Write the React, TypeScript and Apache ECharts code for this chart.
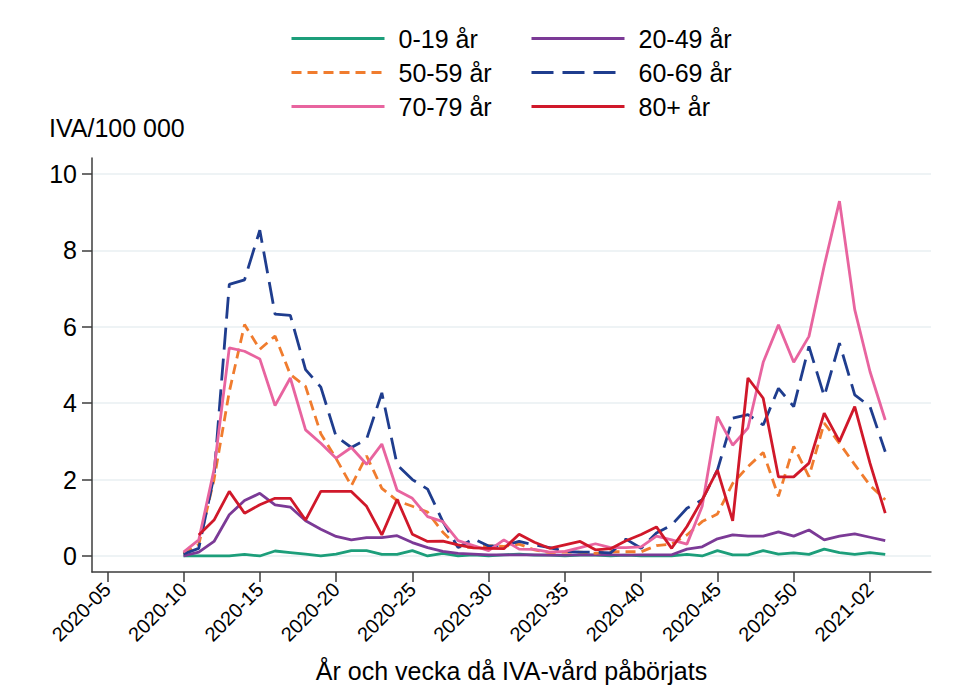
import React, { useEffect, useRef } from "react";
import * as echarts from "echarts";

// Weeks (ISO year-week) for which data exist
const weeks: string[] = [
  "2020-10", "2020-11", "2020-12", "2020-13", "2020-14", "2020-15", "2020-16", "2020-17", "2020-18", "2020-19",
  "2020-20", "2020-21", "2020-22", "2020-23", "2020-24", "2020-25", "2020-26", "2020-27", "2020-28", "2020-29",
  "2020-30", "2020-31", "2020-32", "2020-33", "2020-34", "2020-35", "2020-36", "2020-37", "2020-38", "2020-39",
  "2020-40", "2020-41", "2020-42", "2020-43", "2020-44", "2020-45", "2020-46", "2020-47", "2020-48", "2020-49",
  "2020-50", "2020-51", "2020-52", "2020-53", "2021-01", "2021-02", "2021-03",
];

const xTickLabels: string[] = [
  "2020-05", "2020-10", "2020-15", "2020-20", "2020-25", "2020-30",
  "2020-35", "2020-40", "2020-45", "2020-50", "2021-02",
];
const yTickValues: number[] = [0, 2, 4, 6, 8, 10];

const age0_19: number[] = [
  0, 0, 0, 0, 0.04, 0, 0.13, 0.09, 0.05, 0, 0.05, 0.14, 0.14, 0.04, 0.04, 0.14, 0, 0.07, 0, 0.03,
  0, 0.03, 0.05, 0.02, 0.02, 0, 0.02, 0.02, 0, 0.02, 0, 0, 0, 0.04, 0, 0.14, 0.03, 0.03, 0.14, 0.05,
  0.08, 0.04, 0.18, 0.09, 0.04, 0.09, 0.04,
];
const age20_49: number[] = [
  0, 0.1, 0.38, 1.08, 1.45, 1.64, 1.34, 1.28, 0.92, 0.7, 0.51, 0.42, 0.48, 0.48, 0.53, 0.35, 0.22, 0.12, 0.07, 0.05,
  0.03, 0.03, 0.03, 0.03, 0.02, 0.02, 0.03, 0.03, 0.03, 0.02, 0.03, 0.03, 0.03, 0.18, 0.24, 0.45, 0.55, 0.52, 0.52, 0.63,
  0.52, 0.68, 0.42, 0.52, 0.58, 0.49, 0.4,
];
const age50_59: number[] = [
  0.05, 0.3, 2.0, 4.3, 6.06, 5.41, 5.76, 4.75, 4.44, 3.2, 2.55, 1.84, 2.62, 1.77, 1.45, 1.3, 1.15, 0.62, 0.24, 0.22,
  0.27, 0.25, 0.31, 0.16, 0.09, 0.1, 0.1, 0.07, 0.11, 0.11, 0.11, 0.27, 0.31, 0.55, 0.9, 1.1, 1.9, 2.34, 2.71, 1.56,
  2.87, 2.08, 3.48, 2.95, 2.39, 1.85, 1.47,
];
const age60_69: number[] = [
  0.05, 0.2, 2.1, 7.11, 7.23, 8.53, 6.33, 6.3, 4.88, 4.42, 3.13, 2.84, 3.06, 4.27, 2.39, 2.0, 1.75, 0.9, 0.22, 0.45,
  0.26, 0.27, 0.38, 0.29, 0.22, 0.12, 0.1, 0.1, 0.08, 0.44, 0.2, 0.6, 0.81, 1.25, 1.47, 2.25, 3.61, 3.7, 3.43, 4.39,
  3.91, 5.49, 4.18, 5.57, 4.22, 3.91, 2.73,
];
const age70_79: number[] = [
  0.1, 0.42, 2.26, 5.45, 5.36, 5.16, 3.94, 4.66, 3.3, 2.95, 2.56, 2.84, 2.4, 2.93, 1.72, 1.51, 1.03, 0.9, 0.4, 0.27,
  0.14, 0.42, 0.18, 0.17, 0.1, 0.12, 0.22, 0.32, 0.22, 0.22, 0.24, 0.52, 0.42, 0.31, 1.3, 3.65, 2.9, 3.35, 5.07, 6.05,
  5.07, 5.75, 7.6, 9.29, 6.45, 4.83, 3.56,
];
const age80plus: (number | null)[] = [
  null, 0.55, 0.94, 1.69, 1.12, 1.34, 1.51, 1.51, 0.94, 1.69, 1.69, 1.69, 1.3, 0.55, 1.48, 0.57, 0.38, 0.39, 0.29, 0.21,
  0.2, 0.19, 0.57, 0.36, 0.2, 0.29, 0.38, 0.16, 0.19, 0.4, 0.56, 0.76, 0.2, 0.77, 1.47, 2.25, 0.92, 4.66, 4.13, 2.07,
  2.07, 2.43, 3.74, 3.0, 3.91, 2.43, 1.12,
];

const seriesNames = ["0-19 år", "20-49 år", "50-59 år", "60-69 år", "70-79 år", "80+ år"];
const seriesColors = ["#1c9e7a", "#7b3a96", "#f07c2e", "#1f3d8e", "#e8649f", "#d0182a"];

// position of a "YYYY-WW" week on a continuous week axis (0 = 2020-05)
function weekPos(label: string): number {
  const [y, w] = label.split("-").map(Number);
  return y === 2020 ? w - 5 : 48 + w;
}

const FONT = "'Liberation Sans', Arial, sans-serif";

export default function App() {
  const ref = useRef<HTMLDivElement>(null);
  useEffect(() => {
    if (!ref.current) return;
    const chart = echarts.init(ref.current, null, { renderer: "svg" });
    const allData = [age0_19, age20_49, age50_59, age60_69, age70_79, age80plus];
    const dashes: any[] = ["solid", "solid", [10, 6], [22, 9], "solid", "solid"];
    const tickPos = xTickLabels.map(weekPos);
    const labelByPos: Record<number, string> = {};
    xTickLabels.forEach((l) => (labelByPos[weekPos(l)] = l));

    const legendCols = [290, 530];
    const legendRows = [40, 74, 108];

    chart.setOption({
      animation: false,
      backgroundColor: "#ffffff",
      textStyle: { fontFamily: FONT },
      title: {
        text: "IVA/100 000",
        left: 49,
        top: 115,
        padding: 0,
        textStyle: { fontSize: 25, fontWeight: "normal", color: "#000", fontFamily: FONT },
      },
      legend: seriesNames.map((n, i) => ({
        data: [n],
        left: legendCols[i % 2],
        top: legendRows[Math.floor(i / 2)] - 14,
        padding: 0,
        itemWidth: 93,
        itemHeight: 28,
        itemGap: 0,
        selectedMode: false,
        itemStyle: { opacity: 0, borderWidth: 0 },
        lineStyle: { width: 3 },
        textStyle: { fontSize: 25, color: "#000", fontFamily: FONT, padding: [0, 0, 0, 9] },
      })),
      grid: {
        left: 92,
        right: 44,
        top: 158,
        bottom: 114,
        containLabel: false,
        outerBoundsMode: "none",
      },
      xAxis: {
        type: "value",
        min: -1,
        max: 54,
        name: "År och vecka då IVA-vård påbörjats",
        nameLocation: "middle",
        nameGap: 86,
        nameTextStyle: { fontSize: 25, color: "#000", fontFamily: FONT },
        axisLine: { show: true, onZero: false, lineStyle: { color: "#3c3c3c", width: 1.5 } },
        axisTick: { show: true, length: 10, customValues: tickPos, lineStyle: { color: "#3c3c3c", width: 1.5 } },
        axisLabel: {
          customValues: tickPos,
          rotate: 45,
          margin: 14,
          fontSize: 20,
          color: "#000",
          fontFamily: FONT,
          formatter: (v: number) => labelByPos[Math.round(v)] ?? "",
        },
        splitLine: { show: false },
      },
      yAxis: {
        type: "value",
        min: -0.42,
        max: 10.42,
        axisLine: { show: true, onZero: false, lineStyle: { color: "#3c3c3c", width: 1.5 } },
        axisTick: { show: true, length: 10, customValues: yTickValues, lineStyle: { color: "#3c3c3c", width: 1.5 } },
        axisLabel: {
          customValues: yTickValues,
          margin: 15,
          fontSize: 25,
          color: "#000",
          fontFamily: FONT,
        },
        splitLine: { show: true, lineStyle: { color: "#e8eff2", width: 1.5 } },
      },
      series: seriesNames.map((n, i) => ({
        name: n,
        type: "line",
        symbol: "none",
        showSymbol: false,
        connectNulls: false,
        color: seriesColors[i],
        lineStyle: { color: seriesColors[i], width: 2.8, type: dashes[i] },
        data: allData[i].map((v, k) => [weekPos(weeks[k]), v]),
      })),
    });
    return () => chart.dispose();
  }, []);
  return (
    <div
      ref={ref}
      style={{ position: "fixed", left: 0, top: 0, width: 975, height: 686, background: "#fff" }}
    />
  );
}
